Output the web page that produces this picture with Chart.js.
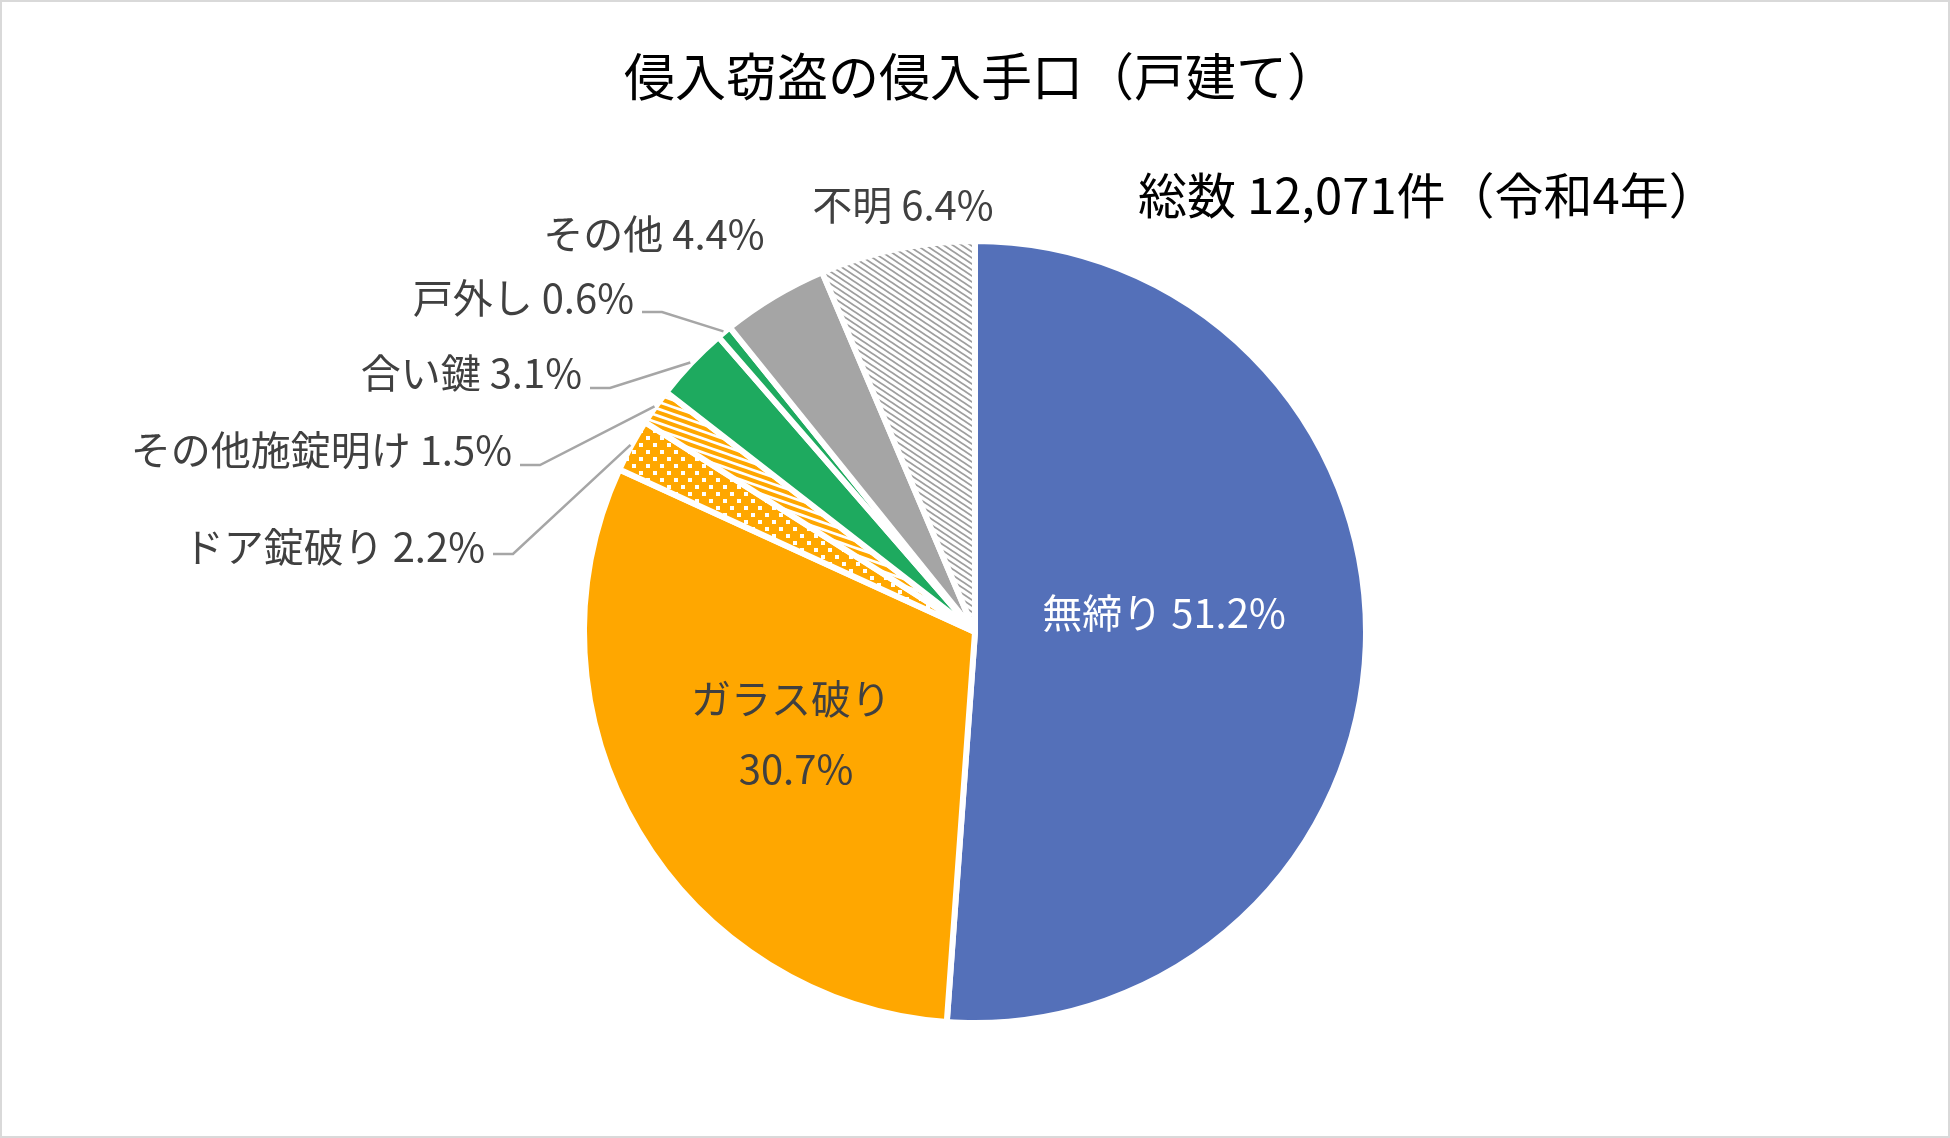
<!DOCTYPE html>
<html lang="ja">
<head>
<meta charset="utf-8">
<title>侵入窃盗の侵入手口（戸建て）</title>
<script src="https://cdn.jsdelivr.net/npm/chart.js@4"></script>
<style>
  html, body { margin: 0; padding: 0; background: #fff; }
  canvas { display: block; }
</style>
</head>
<body>
<canvas id="myChart" width="1950" height="1138"></canvas>
<script>
// 手口（12時の位置から時計回り）
var labels = ['無締り', 'ガラス破り', 'ドア錠破り', 'その他施錠明け', '合い鍵', '戸外し', 'その他', '不明'];
var data = [51.2, 30.7, 2.2, 1.5, 3.1, 0.6, 4.4, 6.4];
var chartTitle = '侵入窃盗の侵入手口（戸建て）';
var totalText = '総数 12,071件（令和4年）';

var FONT = '"Noto Sans CJK JP", "Noto Sans", sans-serif';
var ORANGE = '#ffa700';

// 模様（ドット・斜線・ハッチ）
function makePattern(w, h, draw) {
    var c = document.createElement('canvas');
    c.width = w; c.height = h;
    draw(c.getContext('2d'), w, h);
    return document.getElementById('myChart').getContext('2d').createPattern(c, 'repeat');
}
var dots = makePattern(14, 14, function (g, w, h) {
    g.fillStyle = ORANGE; g.fillRect(0, 0, w, h);
    g.fillStyle = '#fff';
    g.fillRect(2, 2, 4, 4);
    g.fillRect(9, 9, 4, 4);
});
var stripes = makePattern(20, 7, function (g, w, h) {
    g.fillStyle = '#fff'; g.fillRect(0, 0, w, h);
    g.strokeStyle = ORANGE; g.lineWidth = 4;
    for (var k = -2; k <= 2; k++) {
        g.beginPath();
        g.moveTo(-w, k * h - h);
        g.lineTo(2 * w, k * h + 2 * h);
        g.stroke();
    }
});
var hatch = makePattern(9, 6, function (g, w, h) {
    g.fillStyle = '#fff'; g.fillRect(0, 0, w, h);
    g.strokeStyle = '#9e9e9e'; g.lineWidth = 1.8;
    for (var k = -2; k <= 2; k++) {
        g.beginPath();
        g.moveTo(-w, k * h - h);
        g.lineTo(2 * w, k * h + 2 * h);
        g.stroke();
    }
});

var colors = ['#5470b9', ORANGE, dots, stripes, '#1eaa5f', '#1eaa5f', '#a5a5a5', hatch];

// ラベルの配置（円の中心からのずれ）
var labelLayout = [
    { dx: 189, dy: -19, align: 'center', color: '#fff' },
    { dx: -184, dy: 67, align: 'center', twoLines: true, gap: 70 },
    { dx: -490, dy: -85, align: 'right', leader: true, ly: -78 },
    { dx: -463, dy: -182, align: 'right', leader: true, ly: -167 },
    { dx: -393, dy: -259, align: 'right', leader: true, ly: -244 },
    { dx: -341, dy: -334, align: 'right', leader: true, ly: -320 },
    { dx: -321, dy: -398, align: 'center' },
    { dx: -72, dy: -427, align: 'center' }
];

var labelPlugin = {
    id: 'pieLabels',
    afterDraw: function (chart) {
        var ctx = chart.ctx;
        ctx.save();
        // 枠
        ctx.strokeStyle = '#d9d9d9';
        ctx.lineWidth = 2;
        ctx.strokeRect(1, 1, chart.width - 2, chart.height - 2);

        // タイトル
        ctx.fillStyle = '#000';
        ctx.textBaseline = 'middle';
        ctx.textAlign = 'center';
        ctx.font = '51px ' + FONT;
        ctx.fillText(chartTitle, 981, 77);
        ctx.textAlign = 'left';
        ctx.font = '49px ' + FONT;
        ctx.fillText(totalText, 1138, 195);

        var arcs = chart.getDatasetMeta(0).data;
        ctx.font = '40px ' + FONT;
        arcs.forEach(function (arc, i) {
            var p = arc.getProps(['x', 'y', 'startAngle', 'endAngle', 'outerRadius'], true);
            var L = labelLayout[i];
            var tx = p.x + L.dx, ty = p.y + L.dy;
            var value = data[i].toFixed(1) + '%';
            ctx.fillStyle = L.color || '#404040';
            ctx.textAlign = L.align;
            if (L.twoLines) {
                ctx.fillText(labels[i], tx, ty);
                ctx.fillText(value, tx + 5, ty + L.gap);
            } else {
                ctx.fillText(labels[i] + ' ' + value, tx, ty);
            }
            if (L.leader) {
                var mid = (p.startAngle + p.endAngle) / 2;
                var r = p.outerRadius + 1;
                var sx = tx + 8, sy = p.y + L.ly;
                ctx.strokeStyle = '#a6a6a6';
                ctx.lineWidth = 2.5;
                ctx.beginPath();
                ctx.moveTo(sx, sy);
                ctx.lineTo(sx + 20, sy);
                ctx.lineTo(p.x + Math.cos(mid) * r, p.y + Math.sin(mid) * r);
                ctx.stroke();
            }
        });
        ctx.restore();
    }
};

var ctx = document.getElementById('myChart').getContext('2d');
var myChart = new Chart(ctx, {
    type: 'pie',
    data: {
        labels: labels,
        datasets: [{
            data: data,
            backgroundColor: colors,
            borderColor: '#fff',
            borderWidth: 6
        }]
    },
    options: {
        responsive: false,
        animation: false,
        devicePixelRatio: 1,
        radius: 391,
        layout: { padding: { top: 232, bottom: 106, left: 0, right: 0 } },
        plugins: {
            legend: { display: false },
            tooltip: { enabled: false }
        }
    },
    plugins: [labelPlugin]
});
</script>
</body>
</html>
